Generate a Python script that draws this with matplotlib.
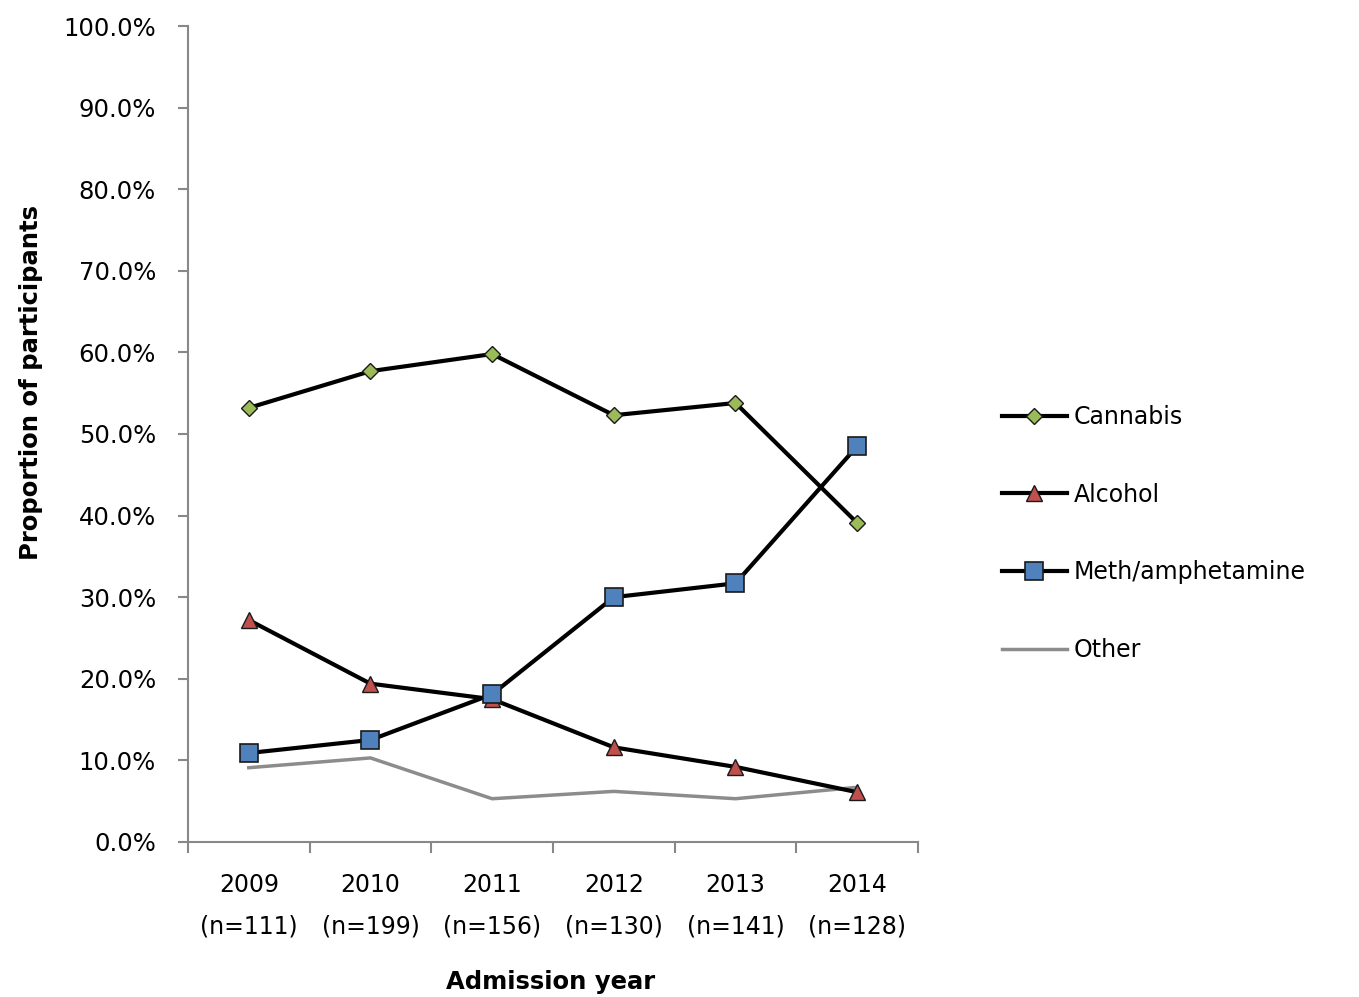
import numpy as np
import matplotlib
matplotlib.use("Agg")
import matplotlib.pyplot as plt

years = ["2009", "2010", "2011", "2012", "2013", "2014"]
n_counts = [111, 199, 156, 130, 141, 128]

cannabis = [53.2, 57.7, 59.8, 52.3, 53.8, 39.1]
alcohol = [27.2, 19.4, 17.5, 11.6, 9.2, 6.1]
meth = [10.9, 12.5, 18.1, 30.0, 31.7, 48.5]
other = [9.1, 10.3, 5.3, 6.2, 5.3, 6.7]

plt.rcParams['font.family'] = ['DejaVu Sans']

fig = plt.figure(figsize=(13.59, 9.97), dpi=100)
ax = fig.add_axes([0.1383, 0.1555, 0.5372, 0.8184])

x = np.arange(len(years))
edge = '#1a1a1a'
ax.plot(x, cannabis, color='black', lw=3, marker='D', ms=8,
        mfc='#9BBB59', mec=edge, mew=1, label='Cannabis', zorder=3)
ax.plot(x, alcohol, color='black', lw=3, marker='^', ms=12,
        mfc='#C0504D', mec=edge, mew=1, label='Alcohol', zorder=3)
ax.plot(x, meth, color='black', lw=3, marker='s', ms=13,
        mfc='#4F81BD', mec=edge, mew=1.2, label='Meth/amphetamine', zorder=4)
ax.plot(x, other, color='#8c8c8c', lw=2.5, label='Other', zorder=2)

ax.set_xlim(-0.5, len(years) - 0.5)
ax.set_ylim(0, 100)

ax.set_yticks(np.arange(0, 101, 10))
ax.set_yticklabels([f"{v:.1f}%" for v in range(0, 101, 10)])
ax.tick_params(axis='y', direction='out', length=7, width=1.5, color='#888888',
               labelsize=17.5, pad=16)

# category boundaries get the tick marks, centres get the labels
ax.set_xticks(np.arange(-0.5, len(years)), minor=False)
ax.set_xticklabels([])
ax.set_xticks(x, minor=True)
ax.set_xticklabels([f"{y}\n(n={n})" for y, n in zip(years, n_counts)],
                   minor=True, fontsize=17, linespacing=1.95)
ax.tick_params(axis='x', which='major', direction='out', length=8, width=1.5,
               color='#888888')
ax.tick_params(axis='x', which='minor', length=0, pad=22)

for s in ['top', 'right']:
    ax.spines[s].set_visible(False)
for s in ['left', 'bottom']:
    ax.spines[s].set_color('#888888')
    ax.spines[s].set_linewidth(1.5)

fig.text(0.0225, 1 - 383 / 997, 'Proportion of participants', rotation=90,
         ha='center', va='center', fontsize=17.5, fontweight='bold')
fig.text(551 / 1359, 1 - 982 / 997, 'Admission year', ha='center',
         va='center', fontsize=17.5, fontweight='bold')

ax.legend(loc='center left', bbox_to_anchor=(727 / 730 + 0.09, 0.378),
          frameon=False, fontsize=17, handlelength=2.75, handletextpad=0.3,
          labelspacing=2.27)

fig.savefig('out.png', dpi=100)
